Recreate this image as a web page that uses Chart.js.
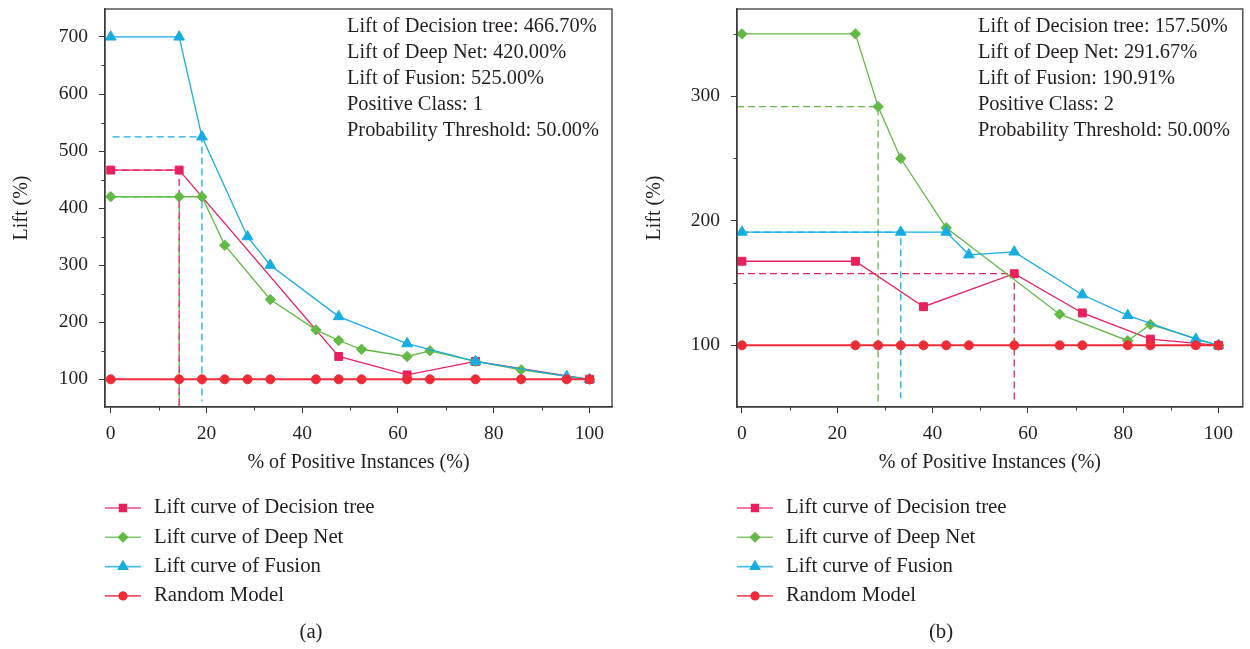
<!DOCTYPE html>
<html>
<head>
<meta charset="utf-8">
<title>Lift curves</title>
<script src="https://cdn.jsdelivr.net/npm/chart.js@4.4.1/dist/chart.umd.min.js"></script>
<style>
  html, body { margin: 0; padding: 0; background: #ffffff; }
  #wrap { position: relative; width: 1250px; height: 649px; overflow: hidden; }
  canvas { position: absolute; top: 0; }
  #chartA { left: 0; }
  #chartB { left: 625px; }
</style>
</head>
<body>
<div id="wrap">
  <canvas id="chartA" width="625" height="649"></canvas>
  <canvas id="chartB" width="625" height="649"></canvas>
</div>
<script>
// ---- tick labels ----
const xTickValues = [0, 20, 40, 60, 80, 100];
const xMinorTicks = [10, 30, 50, 70, 90];
const yTickValuesA = [100, 200, 300, 400, 500, 600, 700];
const yMinorTicksA = [150, 250, 350, 450, 550, 650];
const yTickValuesB = [100, 200, 300];
const yMinorTicksB = [150, 250, 350];

// ---- series labels ----
const seriesNames = ['Lift curve of Decision tree', 'Lift curve of Deep Net', 'Lift curve of Fusion', 'Random Model'];

// ---- panel (a): positive class 1 ----
const liftTreeA = 466.70, liftDeepA = 420.00, liftFusionA = 525.00;
const cutTreeA = 14.29, cutDeepA = 14.29, cutFusionA = 19.05;

const treeAx = [0, 14.29, 47.62, 61.90, 76.19, 100];
const treeAy = [466.70, 466.70, 140.0, 107.7, 131.3, 100];

const deepAx = [0, 14.29, 19.05, 23.81, 33.33, 42.86, 47.62, 52.38, 61.90, 66.67, 76.19, 85.71, 100];
const deepAy = [420.00, 420.00, 420.00, 335.0, 240.0, 186.7, 168.0, 152.7, 140.0, 150.0, 131.3, 116.7, 100];

const fusionAx = [0, 14.29, 19.05, 28.57, 33.33, 47.62, 61.90, 76.19, 95.24, 100];
const fusionAy = [700, 700, 525.00, 350.0, 300.0, 210.0, 162.5, 131.3, 105.0, 100];

const randomAx = [0, 14.29, 19.05, 23.81, 28.57, 33.33, 42.86, 47.62, 52.38, 61.90, 66.67, 76.19, 85.71, 95.24, 100];
const randomAy = [100, 100, 100, 100, 100, 100, 100, 100, 100, 100, 100, 100, 100, 100, 100];

const notesA = [
  'Lift of Decision tree: ' + liftTreeA.toFixed(2) + '%',
  'Lift of Deep Net: ' + liftDeepA.toFixed(2) + '%',
  'Lift of Fusion: ' + liftFusionA.toFixed(2) + '%',
  'Positive Class: 1',
  'Probability Threshold: 50.00%'
];

// ---- panel (b): positive class 2 ----
const liftTreeB = 157.50, liftDeepB = 291.67, liftFusionB = 190.91;
const cutTreeB = 57.14, cutDeepB = 28.57, cutFusionB = 33.33;

const treeBx = [0, 23.81, 38.10, 57.14, 71.43, 85.71, 100];
const treeBy = [167.5, 167.5, 131.0, 157.50, 126.0, 105.0, 100];

const deepBx = [0, 23.81, 28.57, 33.33, 42.86, 66.67, 80.95, 85.71, 100];
const deepBy = [350.0, 350.0, 291.67, 250.0, 194.4, 125.0, 103.7, 116.7, 100];

const fusionBx = [0, 33.33, 42.86, 47.62, 57.14, 71.43, 80.95, 95.24, 100];
const fusionBy = [190.91, 190.91, 190.91, 172.7, 175.0, 140.6, 124.0, 105.0, 100];

const randomBx = [0, 23.81, 28.57, 33.33, 38.10, 42.86, 47.62, 57.14, 66.67, 71.43, 80.95, 85.71, 95.24, 100];
const randomBy = [100, 100, 100, 100, 100, 100, 100, 100, 100, 100, 100, 100, 100, 100];

const notesB = [
  'Lift of Decision tree: ' + liftTreeB.toFixed(2) + '%',
  'Lift of Deep Net: ' + liftDeepB.toFixed(2) + '%',
  'Lift of Fusion: ' + liftFusionB.toFixed(2) + '%',
  'Positive Class: 2',
  'Probability Threshold: 50.00%'
];

// ---- styling ----
const FONT = "'Liberation Serif', 'DejaVu Serif', 'Times New Roman', serif";
const TEXT = '#231f20';
const AXIS = '#3a3a3a';
const C_TREE = '#e8215d';
const C_DEEP = '#63b946';
const C_FUSION = '#17ade3';
const C_RANDOM = '#ee2b37';

Chart.defaults.font.family = FONT;
Chart.defaults.color = TEXT;

function pts(xs, ys) { return xs.map((x, i) => ({ x: x, y: ys[i] })); }

function curve(label, xs, ys, color, shape, radius, width, order) {
  return {
    label: label,
    data: pts(xs, ys),
    showLine: true,
    borderColor: color,
    backgroundColor: color,
    borderWidth: width,
    pointStyle: shape,
    pointRadius: radius,
    pointHoverRadius: radius,
    pointBorderWidth: 1,
    pointBorderColor: color,
    pointBackgroundColor: color,
    tension: 0,
    fill: false,
    clip: false,
    order: order
  };
}

// dashed guide: from the left edge across to the cut-off point, then down to the axis
function guide(color, xStart, xCut, lift, yEnd) {
  return {
    label: '',
    isGuide: true,
    data: [{ x: xStart, y: lift }, { x: xCut, y: lift }, { x: xCut, y: yEnd }],
    showLine: true,
    borderColor: color,
    borderWidth: 1.3,
    borderDash: [7, 4],
    pointRadius: 0,
    pointHoverRadius: 0,
    tension: 0,
    fill: false,
    clip: false,
    order: 10
  };
}

// frame, minor ticks, notes, legend and caption
const decorations = {
  id: 'decorations',
  afterDraw(chart, args, o) {
    const ctx = chart.ctx;
    const a = chart.chartArea;
    const xs = chart.scales.x, ys = chart.scales.y;
    ctx.save();
    // box
    ctx.strokeStyle = AXIS;
    ctx.lineWidth = 1.3;
    ctx.strokeRect(a.left, a.top, a.right - a.left, a.bottom - a.top);
    // minor ticks
    ctx.lineWidth = 1;
    ctx.beginPath();
    o.xMinor.forEach(v => {
      const px = Math.round(xs.getPixelForValue(v)) + 0.5;
      ctx.moveTo(px, a.bottom); ctx.lineTo(px, a.bottom + 3.5);
    });
    o.yMinor.forEach(v => {
      const py = Math.round(ys.getPixelForValue(v)) + 0.5;
      if (py > a.top && py < a.bottom) { ctx.moveTo(a.left, py); ctx.lineTo(a.left - 3.5, py); }
    });
    ctx.stroke();
    // notes
    ctx.fillStyle = TEXT;
    ctx.font = '20.4px ' + FONT;
    ctx.textBaseline = 'middle';
    ctx.textAlign = 'left';
    o.notes.forEach((t, i) => ctx.fillText(t, o.notesX, o.notesY + i * 25.8));
    // legend
    const items = chart.data.datasets.filter(d => !d.isGuide);
    items.forEach((d, i) => {
      const y = o.legendY + i * 29.3;
      ctx.strokeStyle = d.borderColor;
      ctx.globalAlpha = 0.8;
      ctx.lineWidth = 1.6;
      ctx.beginPath();
      ctx.moveTo(o.legendX, y); ctx.lineTo(o.legendX + 36, y);
      ctx.stroke();
      ctx.globalAlpha = 1;
      Chart.helpers.drawPoint(ctx, {
        pointStyle: d.pointStyle, rotation: 0, radius: d.pointRadius * 0.85, borderWidth: 1
      }, o.legendX + 18, y);
      ctx.fillStyle = d.backgroundColor;
      ctx.fill();
      ctx.fillStyle = TEXT;
      ctx.font = '20.8px ' + FONT;
      ctx.fillText(d.label, o.legendX + 49, y);
    });
    // caption
    ctx.textAlign = 'center';
    ctx.fillText(o.caption, o.captionX, 633);
    ctx.restore();
  }
};

function buildChart(id, p) {
  return new Chart(document.getElementById(id), {
    type: 'scatter',
    data: { datasets: p.datasets },
    options: {
      responsive: false,
      animation: false,
      events: [],
      layout: { padding: { left: 0, right: p.padRight, top: 9, bottom: 174 } },
      plugins: {
        legend: { display: false },
        tooltip: { enabled: false },
        decorations: p.deco
      },
      scales: {
        x: {
          type: 'linear',
          min: p.xMin, max: p.xMax,
          afterBuildTicks: s => { s.ticks = xTickValues.map(v => ({ value: v })); },
          afterFit: s => { s.height = 68; s.paddingLeft = 0; s.paddingRight = 0; },
          grid: { drawOnChartArea: false, drawTicks: true, tickLength: 6, color: AXIS, tickColor: AXIS, tickWidth: 1 },
          border: { display: true, color: AXIS, width: 1.3 },
          ticks: { padding: 9, color: TEXT, font: { size: 19.5 }, maxRotation: 0, autoSkip: false, callback: v => String(v) },
          title: { display: true, text: '% of Positive Instances (%)', color: TEXT, font: { size: 20 }, padding: { top: 0, bottom: 0 } }
        },
        y: {
          type: 'linear',
          min: p.yMin, max: p.yMax,
          afterBuildTicks: s => { s.ticks = p.yTicks.map(v => ({ value: v })); },
          afterFit: s => { s.width = p.yWidth; s.paddingTop = 0; s.paddingBottom = 0; },
          grid: { drawOnChartArea: false, drawTicks: true, tickLength: 6, color: AXIS, tickColor: AXIS, tickWidth: 1 },
          border: { display: true, color: AXIS, width: 1.3 },
          ticks: { padding: 11, color: TEXT, font: { size: 19.5 }, autoSkip: false, callback: v => String(v) },
          title: { display: true, text: 'Lift (%)', color: TEXT, font: { size: 20 }, padding: { top: p.yTitlePad, bottom: 0 } }
        }
      }
    },
    plugins: [decorations]
  });
}

function panelSets(d) {
  return [
    curve(seriesNames[0], d.tx, d.ty, C_TREE, 'rect', 5.6, 1.3, 4),
    curve(seriesNames[1], d.dx, d.dy, C_DEEP, 'rectRot', 5.2, 1.3, 3),
    curve(seriesNames[2], d.fx, d.fy, C_FUSION, 'triangle', 6.2, 1.3, 2),
    curve(seriesNames[3], d.rx, d.ry, C_RANDOM, 'circle', 4.5, 2.0, 1)
  ];
}

const Ax = { min: -1.2, max: 104.7 }, Ay = { min: 51.5, max: 749 };
const Bx = { min: -1.04, max: 105.1 }, By = { min: 50.5, max: 370 };

buildChart('chartA', {
  datasets: panelSets({ tx: treeAx, ty: treeAy, dx: deepAx, dy: deepAy, fx: fusionAx, fy: fusionAy, rx: randomAx, ry: randomAy })
    .concat([
      guide(C_FUSION, 0.4, cutFusionA, liftFusionA, 61),
      guide(C_TREE, 0, cutTreeA, liftTreeA, Ay.min),
      guide(C_DEEP, 0, cutDeepA, liftDeepA, Ay.min)
    ]),
  xMin: Ax.min, xMax: Ax.max, yMin: Ay.min, yMax: Ay.max,
  yTicks: yTickValuesA, yWidth: 105, yTitlePad: 10, padRight: 13,
  deco: { xMinor: xMinorTicks, yMinor: yMinorTicksA, notes: notesA, notesX: 347, notesY: 27,
          legendX: 105, legendY: 508, caption: '(a)', captionX: 311 }
});

buildChart('chartB', {
  datasets: panelSets({ tx: treeBx, ty: treeBy, dx: deepBx, dy: deepBy, fx: fusionBx, fy: fusionBy, rx: randomBx, ry: randomBy })
    .concat([
      guide(C_DEEP, Bx.min, cutDeepB, liftDeepB, By.min),
      guide(C_TREE, Bx.min, cutTreeB, liftTreeB, 56),
      guide(C_FUSION, 0, cutFusionB, liftFusionB, 57.5)
    ]),
  xMin: Bx.min, xMax: Bx.max, yMin: By.min, yMax: By.max,
  yTicks: yTickValuesB, yWidth: 112, yTitlePad: 18, padRight: 5,
  deco: { xMinor: xMinorTicks, yMinor: yMinorTicksB, notes: notesB, notesX: 353, notesY: 27,
          legendX: 112, legendY: 508, caption: '(b)', captionX: 316 }
});
</script>
</body>
</html>
